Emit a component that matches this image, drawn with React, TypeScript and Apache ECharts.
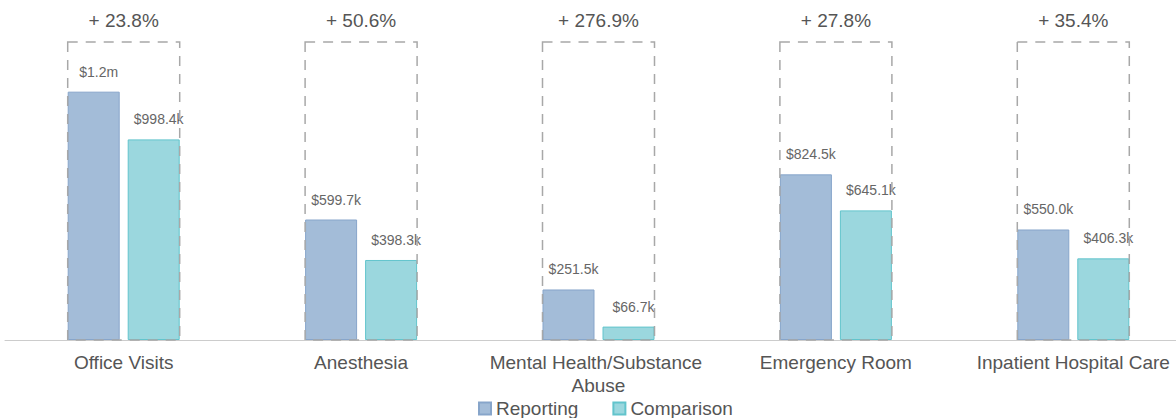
import React, { useEffect, useRef } from "react";
import * as echarts from "echarts";

const categories = [
  "Office Visits",
  "Anesthesia",
  "Mental Health/Substance Abuse",
  "Emergency Room",
  "Inpatient Hospital Care",
];
// values in $k
const reporting = [1236.0, 599.7, 251.5, 824.5, 550.0];
const comparison = [998.4, 398.3, 66.7, 645.1, 406.3];
const pctChange = [23.8, 50.6, 276.9, 27.8, 35.4];
const seriesNames = ["Reporting", "Comparison"];

const BAR_WIDTH = 52;
const BAR_GAP = 8;

function fmtMoney(v: number): string {
  if (v >= 1000) return "$" + (v / 1000).toFixed(1) + "m";
  return "$" + v.toFixed(1) + "k";
}

export default function App() {
  const ref = useRef<HTMLDivElement>(null);
  useEffect(() => {
    if (!ref.current) return;
    const chart = echarts.init(ref.current, undefined, { renderer: "svg" });
    const maxVal = Math.max(...reporting, ...comparison);
    const boxTop = maxVal * 1.2;
    const font = "Liberation Sans, Arial, sans-serif";
    const barLabel = {
      show: true,
      position: "top",
      distance: 13,
      offset: [5, 0],
      fontSize: 14,
      color: "#666",
      fontFamily: font,
      formatter: (p: any) => fmtMoney(p.value),
    };
    chart.setOption({
      animation: false,
      grid: {
        left: 5,
        width: 1187,
        top: 42,
        height: 298,
        containLabel: false,
        outerBoundsMode: "none",
      },
      legend: {
        data: seriesNames,
        top: 394,
        left: 473,
        padding: [5, 5, 0, 5],
        itemWidth: 12,
        itemHeight: 12,
        itemGap: 34,
        textStyle: { fontSize: 19, lineHeight: 19, color: "#555", fontFamily: font },
        icon: "rect",
      },
      xAxis: {
        type: "category",
        data: categories,
        axisLine: { lineStyle: { color: "#ccc" } },
        axisTick: { show: false },
        axisLabel: {
          fontSize: 19,
          color: "#555",
          fontFamily: font,
          margin: 11,
          lineHeight: 23,
          width: 225,
          overflow: "break",
          interval: 0,
        },
      },
      yAxis: {
        type: "value",
        min: 0,
        max: boxTop,
        show: false,
        splitLine: { show: false },
      },
      series: [
        {
          name: seriesNames[0],
          type: "bar",
          data: reporting,
          barWidth: BAR_WIDTH,
          barGap: (BAR_GAP / BAR_WIDTH) * 100 + "%",
          itemStyle: { color: "#a3bcd8", borderColor: "#87a5ca", borderWidth: 1 },
          label: barLabel,
          z: 2,
        },
        {
          name: seriesNames[1],
          type: "bar",
          data: comparison,
          barWidth: BAR_WIDTH,
          itemStyle: { color: "#9bd7de", borderColor: "#62c4cc", borderWidth: 1 },
          label: barLabel,
          z: 2,
        },
        {
          type: "custom",
          z: 5,
          silent: true,
          data: categories.map((_, i) => [i, boxTop, pctChange[i]]),
          renderItem: (params: any, api: any) => {
            const top = api.coord([api.value(0), api.value(1)]);
            const base = api.coord([api.value(0), 0]);
            const w = BAR_WIDTH * 2 + BAR_GAP;
            const x0 = top[0] - w / 2;
            return {
              type: "group",
              children: [
                {
                  type: "rect",
                  shape: { x: x0, y: top[1], width: w, height: base[1] - top[1] },
                  style: {
                    fill: "none",
                    stroke: "#a8a8a8",
                    lineWidth: 1.5,
                    lineDash: [10, 8],
                  },
                },
                {
                  type: "text",
                  x: top[0],
                  y: top[1] - 22,
                  style: {
                    text: "+ " + api.value(2).toFixed(1) + "%",
                    fontSize: 19,
                    fontFamily: font,
                    fill: "#555",
                    align: "center",
                    verticalAlign: "middle",
                  },
                },
              ],
            };
          },
        },
      ],
    });
    return () => chart.dispose();
  }, []);
  return (
    <div
      ref={ref}
      style={{ position: "fixed", left: 0, top: 0, width: 1176, height: 418, background: "#fff" }}
    />
  );
}
